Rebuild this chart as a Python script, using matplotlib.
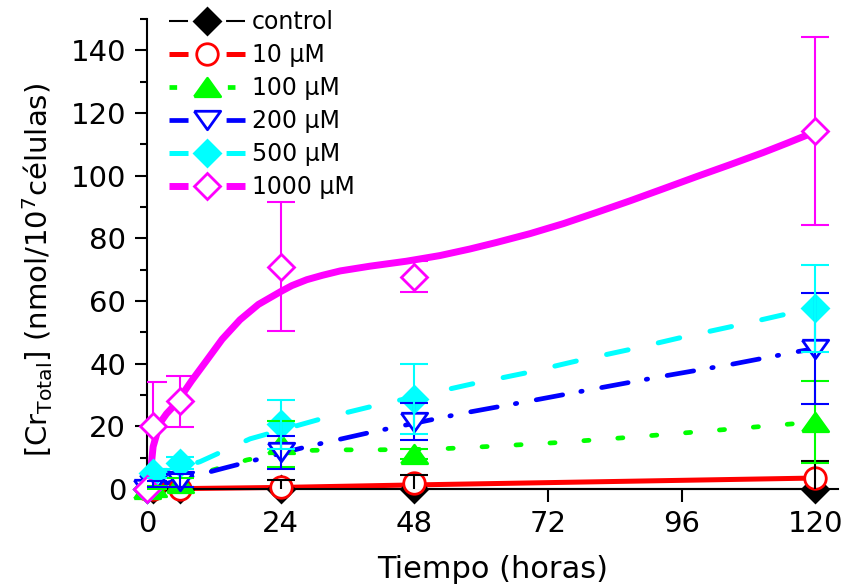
import matplotlib
matplotlib.use("Agg")
import matplotlib.pyplot as plt
from matplotlib.lines import Line2D
from matplotlib.ticker import MultipleLocator
import numpy as np

plt.rcParams['font.family'] = ['DejaVu Sans']
plt.rcParams['mathtext.default'] = 'regular'

# tiempos de muestreo (horas)
tiempos = [0, 1, 6, 24, 48, 120]

# [Cr total] medio y error para cada tratamiento
control = [0, 0, 0, 0, 0, 0]
control_err = [0, 0, 0, 0, 0, 0]
cr10 = [0, 0, 0, 0.5, 2.0, 3.5]
cr10_err = [0, 0, 0, 2.5, 2.5, 5.5]
cr100 = [0, 0.5, 2.0, 14.3, 11.2, 21.4]
cr100_err = [0, 0.5, 1.5, 7.3, 1.5, 13.1]
cr200 = [0, 1.5, 2.7, 11.7, 21.5, 44.7]
cr200_err = [0, 1.0, 2.1, 5.3, 6.0, 17.7]
cr500 = [0, 5.0, 8.3, 20.6, 28.8, 57.7]
cr500_err = [0, 1.5, 1.9, 7.8, 11.2, 13.9]
cr1000 = [0, 20.2, 28.0, 71.0, 67.8, 114.2]
cr1000_err = [0, 13.8, 8.1, 20.7, 4.9, 30.0]

# curvas de ajuste
ajuste_control_t = [0, 120]
ajuste_control = [0, 0]
ajuste10_t = [0, 24, 48, 120]
ajuste10 = [0, 0.5, 1.3, 3.5]
ajuste100_t = [0, 6, 11.9, 18, 24, 28.7, 34.7, 40.7, 51.4, 62.8, 74.5, 85.9, 97.2, 108.6, 120]
ajuste100 = [0, 3.0, 6.1, 9.3, 11.3, 12.3, 12.5, 12.5, 12.7, 13.7, 14.9, 16.4, 18.0, 19.7, 21.4]
ajuste200_t = [0, 6, 13.7, 28.7, 40.7, 56.8, 68.8, 81.1, 93, 105, 117, 120]
ajuste200 = [0, 3.0, 6.6, 13.5, 18.3, 24.2, 28.1, 32.2, 36.1, 39.8, 43.9, 44.8]
ajuste500_t = [0, 1, 9.5, 18.5, 31.7, 40.7, 58.3, 67.9, 77.5, 86.9, 96.3, 105.9, 115.5, 120]
ajuste500 = [3.5, 4.3, 8.7, 16.0, 22.6, 26.5, 33.5, 37.0, 41.0, 44.6, 48.5, 52.2, 56.1, 57.8]
ajuste1000_t = [0, 0.5, 1.1, 2.3, 3.5, 4.7, 6, 8, 10.7, 13.5, 16.7, 20, 24, 26, 28.7, 31.5,
                34.7, 40, 46.6, 52.6, 58, 62.8, 68.8, 74.8, 80.8, 86.8, 92.7, 98.7,
                104.7, 110.7, 115, 120]
ajuste1000 = [0, 3.0, 13.5, 21.0, 24.0, 26.3, 29.3, 34.5, 41.0, 47.8, 54.0, 58.9, 63.0, 64.9,
              66.8, 68.2, 69.6, 71.1, 72.7, 74.5, 76.6, 78.7, 81.5, 84.7, 88.3, 92.0, 95.8,
              99.7, 103.5, 107.4, 110.4, 114.0]

etiquetas = ['control', '10 μM', '100 μM', '200 μM', '500 μM', '1000 μM']

# triangulos mas anchos que altos
tri_up = [(-1, -0.7), (1, -0.7), (0, 0.7), (-1, -0.7)]
tri_down = [(-1, 0.7), (1, 0.7), (0, -0.7), (-1, 0.7)]

punteado = (0, (1.1, 6.1))
series = [
    # datos, error, ajuste t, ajuste, color, color error, lw, estilo, marcador, ms, relleno
    (control, control_err, ajuste_control_t, ajuste_control, 'black', 'black', 1.5, '-', 'D', 13, 'black'),
    (cr10, cr10_err, ajuste10_t, ajuste10, '#ff0000', 'black', 3.6, '-', 'o', 15.5, 'white'),
    (cr100, cr100_err, ajuste100_t, ajuste100, '#00ff00', '#00ff00', 3.4, punteado, tri_up, 19, '#00ff00'),
    (cr200, cr200_err, ajuste200_t, ajuste200, '#0000ff', '#0000ff', 3.4, (0, (5.7, 3.9, 0.3, 4.2)), tri_down, 19, 'white'),
    (cr500, cr500_err, ajuste500_t, ajuste500, '#00ffff', '#00ffff', 3.6, (0, (4.4, 6.2)), 'D', 13, '#00ffff'),
    (cr1000, cr1000_err, ajuste1000_t, ajuste1000, '#ff00ff', '#ff00ff', 5.0, '-', 'D', 13, 'white'),
]

fig = plt.figure(figsize=(8.45, 5.88), dpi=100)
ax = fig.add_axes([147 / 845, 1 - 489 / 588, (838 - 147) / 845, (489 - 19) / 588])

for i, (y, e, ft, fy, col, ecol, lw, ls, mk, ms, fc) in enumerate(series):
    ax.plot(ft, fy, color=col, lw=lw, linestyle=ls, dash_capstyle='round',
            solid_capstyle='round', zorder=2, clip_on=False)
    t = np.array(tiempos)
    y = np.array(y)
    e = np.array(e)
    m = e > 0
    ezo = 4 if i < 5 else 3
    ax.errorbar(t[m], y[m], yerr=e[m], fmt='none', ecolor=ecol, elinewidth=1.5,
                capsize=10, capthick=1.5, zorder=ezo)
    ax.plot(t, y, linestyle='none', marker=mk, ms=ms, mfc=fc, mec=col, mew=2,
            zorder=3.5, clip_on=False)

# leyenda: trazos cortos a cada lado del marcador
def trazo(lw, on_pt, off_pt):
    return (0, (on_pt / lw, off_pt / lw))

handles = []
for (y, e, ft, fy, col, ecol, lw, ls, mk, ms, fc) in series:
    if ls == punteado:
        estilo = trazo(lw, 5.5, 36.5)
    else:
        estilo = trazo(lw, 13.7, 27.4)
    handles.append(Line2D([], [], color=col, lw=lw, linestyle=estilo, dash_capstyle='butt',
                          marker=mk, ms=ms, mfc=fc, mec=col, mew=2))

ax.legend(handles, etiquetas, loc='upper left', bbox_to_anchor=(169 / 845, 1 - 10 / 588),
          bbox_transform=fig.transFigure, frameon=False, fontsize=17, numpoints=1,
          handlelength=3.2, handletextpad=0.3, labelspacing=0.38,
          borderpad=0, borderaxespad=0)

ax.set_xlim(0, 124.1)
ax.set_ylim(0, 150)
ax.xaxis.set_major_locator(MultipleLocator(24))
ax.yaxis.set_minor_locator(MultipleLocator(10))
ax.set_yticks([0, 20, 40, 60, 80, 100, 120, 140])
ax.tick_params(axis='both', which='major', direction='out', length=9, width=1.5,
               labelsize=21, pad=6)
ax.tick_params(axis='y', which='minor', direction='out', length=5, width=1.5)
for lado in ['top', 'right']:
    ax.spines[lado].set_visible(False)
for lado in ['left', 'bottom']:
    ax.spines[lado].set_linewidth(1.5)

ax.set_xlabel('Tiempo (horas)', fontsize=22, labelpad=12)
ax.set_ylabel('[Cr$_{Total}$] (nmol/10$^{7}$células)', fontsize=21)
ax.yaxis.set_label_coords(-0.133, 0.466)

fig.savefig('out.png', dpi=100)
